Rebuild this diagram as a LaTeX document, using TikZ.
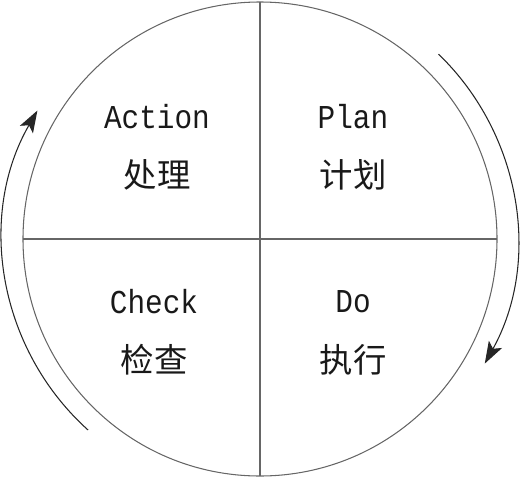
\documentclass[tikz,border=0pt]{standalone}
\usepackage{fontspec}
\setmonofont[FakeStretch=0.88]{Liberation Mono}
\newfontfamily\cjk{Noto Sans CJK SC}
\usepackage{tikz}
\usetikzlibrary{calc}
\usetikzlibrary{arrows.meta}

\begin{document}
\begin{tikzpicture}[x=0.02cm, y=0.02cm,
			rim/.style={draw=black!60, line width=0.6pt},
			cycle arrow/.style={draw=black!85, line width=0.6pt, -{Stealth[length=0.44cm, width=0.3cm, inset=0.1cm]}},
			en/.style={font=\ttfamily\fontsize{19}{22}\selectfont, text=black!90},
			zh/.style={font=\cjk\fontsize{19}{22}\selectfont, text=black!90},
			]
			\useasboundingbox (0,0) rectangle (524,478);
			\coordinate (o) at (260,239);
			% circle and cross
			\draw[rim] (o) circle[radius=237];
			\draw[rim] ($(o)+(-237,0)$) -- ($(o)+(237,0)$);
			\draw[rim] ($(o)+(0,237)$) -- ($(o)+(0,-237)$);
			% labels
			\node[en] (action) at (157,361) {Action};
			\node[zh] (chuli) at (157,303) {处理};
			\node[en] (plan) at (353,361) {Plan};
			\node[zh] (jihua) at (353,303) {计划};
			\node[en] (check) at (154,176) {Check};
			\node[zh] (jiancha) at (154,118) {检查};
			\node[en] (do) at (353,176) {Do};
			\node[zh] (zhixing) at (353,118) {执行};
			% arrows
			\draw[cycle arrow] ($(o)+(228:257)$) arc[start angle=228, end angle=150, radius=257];
			\draw[cycle arrow] ($(o)+(46:257)$) arc[start angle=46, end angle=-29, radius=257];
		\end{tikzpicture}
\end{document}
